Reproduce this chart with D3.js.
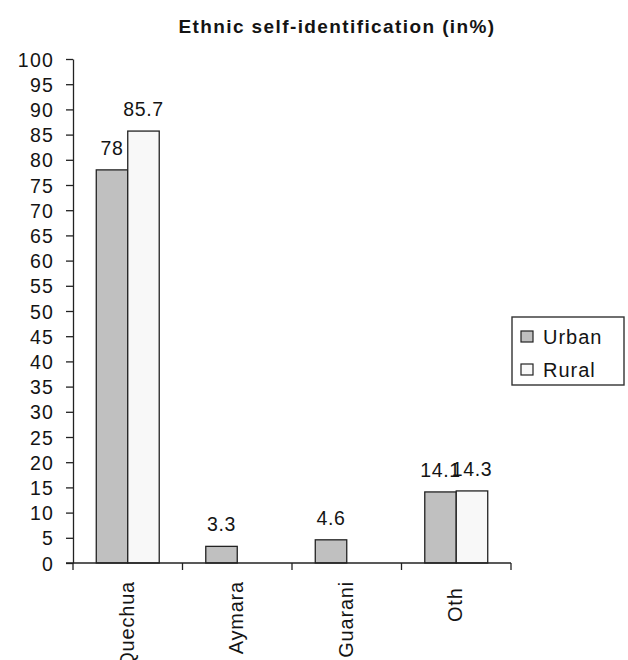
<!DOCTYPE html>
<html>
<head>
<meta charset="utf-8">
<script src="https://cdn.jsdelivr.net/npm/d3@7"></script>
<style>
  html, body { margin: 0; padding: 0; background: #fff; }
  svg text { font-family: "Liberation Sans", Arial, sans-serif; fill: #141414; white-space: pre; }
</style>
</head>
<body>
<svg id="chart" width="628" height="660"></svg>
<script>
// Ethnic self-identification, urban vs rural (percent)
const categories = ["Quechua", "Aymara", "Guarani", "Oth "];
const seriesNames = ["Urban", "Rural"];
const urbanValues = [78, 3.3, 4.6, 14.1];
const ruralValues = [85.7, 0, 0, 14.3];
const yTicks = d3.range(0, 101, 5);
const seriesColors = ["#c0c0c0", "#f8f8f8"];

const svg = d3.select("#chart");

// Plot frame
const plotLeft = 73, plotRight = 511, plotTop = 59, plotBottom = 563;

const x = d3.scaleBand()
  .domain(categories)
  .range([plotLeft, plotRight])
  .paddingInner(0.425)
  .paddingOuter(0.2125);

const xSub = d3.scaleBand()
  .domain(seriesNames)
  .range([0, x.bandwidth()]);

const y = d3.scaleLinear().domain([0, 100]).range([plotBottom, plotTop]);

// Title
svg.append("text")
  .attr("x", 337)
  .attr("y", 33)
  .attr("text-anchor", "middle")
  .style("font-size", "19px")
  .style("font-weight", "bold")
  .style("letter-spacing", "1.4px")
  .text("Ethnic self-identification (in%)");

// Bars
const rows = categories.map((c, i) => ({ cat: c, vals: [urbanValues[i], ruralValues[i]] }));

const groups = svg.append("g").selectAll("g")
  .data(rows)
  .join("g")
  .attr("transform", d => `translate(${x(d.cat)},0)`);

groups.selectAll("rect")
  .data(d => d.vals.map((v, j) => ({ series: seriesNames[j], v, j })))
  .join("rect")
  .attr("x", d => xSub(d.series))
  .attr("width", xSub.bandwidth())
  .attr("y", d => y(d.v))
  .attr("height", d => y(0) - y(d.v))
  .attr("fill", d => seriesColors[d.j])
  .attr("stroke", "#222")
  .attr("stroke-width", 1.3);

// Value labels (non-zero values only)
groups.selectAll("text")
  .data(d => d.vals.map((v, j) => ({ series: seriesNames[j], v, j })).filter(d => d.v > 0))
  .join("text")
  .attr("x", d => xSub(d.series) + xSub.bandwidth() / 2)
  .attr("y", d => y(d.v) - 15)
  .attr("text-anchor", "middle")
  .style("font-size", "19.5px")
  .style("letter-spacing", "0.6px")
  .text(d => d.v);

// Y axis
const yAxis = d3.axisLeft(y)
  .tickValues(yTicks)
  .tickSize(7)
  .tickPadding(12)
  .tickSizeOuter(0);

const gy = svg.append("g")
  .attr("transform", `translate(${plotLeft},0)`)
  .call(yAxis);
gy.select(".domain").attr("stroke", "#222").attr("stroke-width", 1.3);
gy.selectAll(".tick line").attr("stroke", "#222").attr("stroke-width", 1.3);
gy.selectAll(".tick text")
  .attr("fill", "#141414")
  .style("font-family", "'Liberation Sans', Arial, sans-serif")
  .style("font-size", "19.5px")
  .style("letter-spacing", "1.2px")
  .attr("dy", "0.36em");

// X axis: boundary ticks between categories
const boundaries = d3.range(categories.length + 1).map(i => plotLeft + i * x.step());
const gx = svg.append("g");
gx.append("line")
  .attr("x1", plotLeft - 7).attr("x2", plotRight)
  .attr("y1", plotBottom).attr("y2", plotBottom)
  .attr("stroke", "#222").attr("stroke-width", 1.3);
gx.selectAll("line.bt")
  .data(boundaries)
  .join("line")
  .attr("class", "bt")
  .attr("x1", d => d).attr("x2", d => d)
  .attr("y1", plotBottom).attr("y2", plotBottom + 7)
  .attr("stroke", "#222").attr("stroke-width", 1.3);

// Category labels, rotated
gx.selectAll("text")
  .data(categories)
  .join("text")
  .attr("transform", d => `translate(${x(d) + x.bandwidth() / 2 + 6},581) rotate(-90)`)
  .attr("text-anchor", "end")
  .style("font-size", "20px")
  .style("letter-spacing", "0.8px")
  .text(d => d);

// Legend
const legend = svg.append("g");
legend.append("rect")
  .attr("x", 512).attr("y", 317)
  .attr("width", 112).attr("height", 68)
  .attr("fill", "#fff")
  .attr("stroke", "#333").attr("stroke-width", 1.4);

const items = legend.selectAll("g")
  .data(seriesNames)
  .join("g")
  .attr("transform", (d, i) => `translate(521,${331 + i * 33})`);
items.append("rect")
  .attr("width", 12).attr("height", 11)
  .attr("fill", (d, i) => seriesColors[i])
  .attr("stroke", "#222").attr("stroke-width", 1.2);
items.append("text")
  .attr("x", 22).attr("y", 13)
  .style("font-size", "20px")
  .style("letter-spacing", "1px")
  .text(d => d);
</script>
</body>
</html>
